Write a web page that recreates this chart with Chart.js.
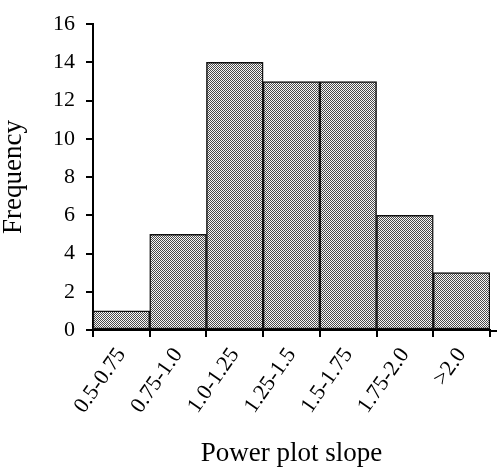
<!DOCTYPE html>
<html>
<head>
<meta charset="utf-8">
<script src="https://cdn.jsdelivr.net/npm/chart.js@4.4.1/dist/chart.umd.min.js"></script>
<style>
  html, body { margin: 0; padding: 0; background: #fff; }
  #wrap { width: 500px; height: 470px; }
</style>
</head>
<body>
<div id="wrap"><canvas id="c" width="500" height="470"></canvas></div>
<script>
const categories = ["0.5-0.75", "0.75-1.0", "1.0-1.25", "1.25-1.5", "1.5-1.75", "1.75-2.0", ">2.0"];
const frequency = [1, 5, 14, 13, 13, 6, 3];
const yTicks = [0, 2, 4, 6, 8, 10, 12, 14, 16];

function stipple() {
  const p = document.createElement('canvas');
  p.width = 2; p.height = 2;
  const g = p.getContext('2d');
  g.fillStyle = '#f8f8f8'; g.fillRect(0, 0, 2, 2);
  g.fillStyle = '#4a4a4a'; g.fillRect(0, 0, 1, 1); g.fillRect(1, 1, 1, 1);
  return g.createPattern(p, 'repeat');
}

const extendAxis = {
  id: 'extendAxis',
  afterDraw(chart) {
    const ctx = chart.ctx, a = chart.chartArea;
    ctx.save();
    ctx.strokeStyle = '#000';
    ctx.lineWidth = 2;
    ctx.beginPath();
    ctx.moveTo(a.right - 1, a.bottom + 1);
    ctx.lineTo(a.right + 7, a.bottom + 1);
    ctx.stroke();
    ctx.restore();
  }
};

const serif = "'Liberation Serif', 'Times New Roman', serif";

new Chart(document.getElementById('c'), {
  type: 'bar',
  data: {
    labels: categories,
    datasets: [{
      data: frequency,
      backgroundColor: stipple(),
      borderColor: '#111',
      borderWidth: 1.5,
      borderSkipped: false,
      barPercentage: 1,
      categoryPercentage: 1
    }]
  },
  options: {
    responsive: false,
    animation: false,
    devicePixelRatio: 1,
    layout: { padding: { top: 24, right: 10, left: 0, bottom: 0 } },
    plugins: { legend: { display: false }, tooltip: { enabled: false } },
    scales: {
      x: {
        grid: { display: true, drawOnChartArea: false, drawTicks: true, tickLength: 7, color: '#000', lineWidth: 2 },
        border: { display: true, color: '#000', width: 2 },
        ticks: { color: '#000', font: { family: serif, size: 22 }, minRotation: 55, maxRotation: 55, padding: 6, autoSkip: false },
        title: { display: true, text: 'Power plot slope', color: '#000', font: { family: serif, size: 27 }, padding: { top: 0, bottom: 0 } },
        afterFit(s) { s.height = 140; }
      },
      y: {
        min: 0, max: 16,
        afterBuildTicks(s) { s.ticks = yTicks.map(v => ({ value: v })); },
        grid: { display: true, drawOnChartArea: false, drawTicks: true, tickLength: 7, color: '#000', lineWidth: 2 },
        border: { display: true, color: '#000', width: 2 },
        ticks: { color: '#000', font: { family: serif, size: 22 }, padding: 11 },
        title: { display: true, text: 'Frequency', color: '#000', font: { family: serif, size: 27, lineHeight: 1 }, padding: { top: 0, bottom: 0 } },
        afterFit(s) { s.width = 93; }
      }
    }
  },
  plugins: [extendAxis]
});
</script>
</body>
</html>
